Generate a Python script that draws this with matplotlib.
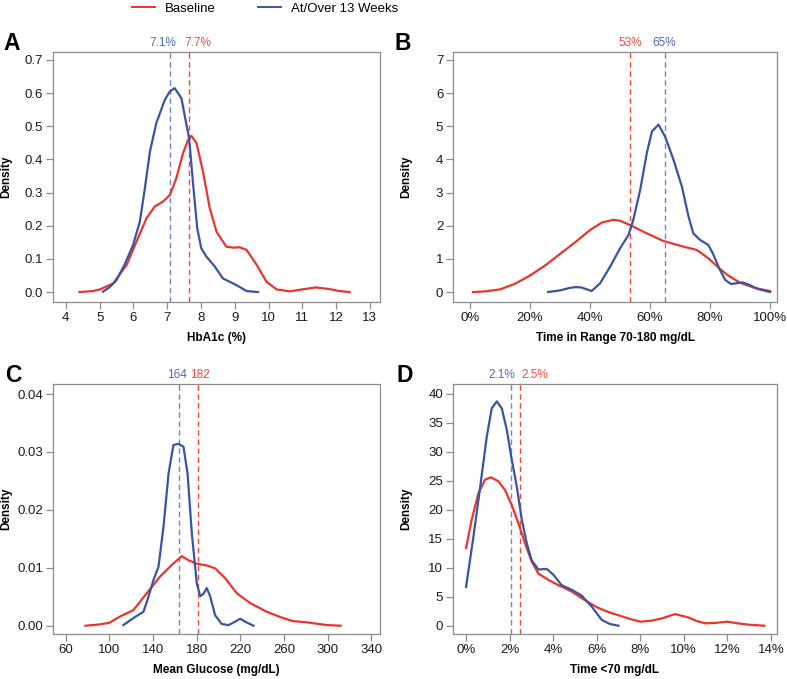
import matplotlib
matplotlib.use("Agg")
import matplotlib.pyplot as plt
from matplotlib.lines import Line2D
from matplotlib.ticker import FuncFormatter

plt.rcParams['font.family'] = ['Liberation Sans', 'DejaVu Sans']

RED = '#E8352E'
BLUE = '#3A54A4'
RED_DASH = '#F04A3E'
BLUE_DASH = '#6F88CC'

# ---- Panel A: HbA1c (%) ----
a_base_x = [4.4, 4.8, 5.01, 5.4, 5.8, 6.09, 6.39, 6.63, 6.88, 7.08, 7.27, 7.47, 7.62, 7.72, 7.87,
            8.06, 8.26, 8.46, 8.75, 8.95, 9.15, 9.35, 9.65, 9.94, 10.24, 10.63, 11.0, 11.4, 11.8,
            12.1, 12.4]
a_base_y = [0.0, 0.003, 0.008, 0.026, 0.082, 0.152, 0.223, 0.258, 0.273, 0.293, 0.343, 0.419, 0.459,
            0.471, 0.449, 0.363, 0.253, 0.182, 0.137, 0.134, 0.135, 0.127, 0.082, 0.031, 0.008,
            0.002, 0.008, 0.014, 0.009, 0.003, 0.0]
a_wk13_x = [5.1, 5.3, 5.5, 5.75, 5.99, 6.19, 6.34, 6.49, 6.68, 6.93, 7.08, 7.22, 7.42, 7.57, 7.65,
            7.77, 7.89, 8.01, 8.16, 8.41, 8.65, 9.05, 9.35, 9.69]
a_wk13_y = [0.001, 0.015, 0.036, 0.085, 0.142, 0.212, 0.313, 0.424, 0.51, 0.58, 0.605, 0.615, 0.585,
            0.505, 0.464, 0.323, 0.192, 0.132, 0.107, 0.077, 0.041, 0.021, 0.003, 0.0]
a_means = [7.66, 7.08]
a_labels = ['7.7%', '7.1%']

# ---- Panel B: Time in Range 70-180 mg/dL (%) ----
b_base_x = [1, 5, 10, 15, 20, 25, 30, 35, 40, 44, 47.8, 50, 53.3, 58.9, 64.4, 71.1, 75.6, 79.4, 83,
            86, 90, 95, 100]
b_base_y = [0.0, 0.02, 0.08, 0.25, 0.5, 0.8, 1.15, 1.5, 1.87, 2.1, 2.18, 2.15, 2.02, 1.77, 1.54,
            1.37, 1.27, 1.02, 0.72, 0.5, 0.28, 0.12, 0.03]
b_wk13_x = [26, 30, 33, 35, 37, 39, 40.5, 43.3, 46.7, 50.0, 52.8, 54.4, 56.7, 58.9, 60.6, 62.8, 65.0,
            67.8, 70.6, 72.8, 74.4, 76.7, 79.4, 81, 83, 85, 87, 89, 91, 93, 96, 100]
b_wk13_y = [0.0, 0.05, 0.12, 0.15, 0.14, 0.08, 0.03, 0.26, 0.77, 1.32, 1.72, 2.18, 3.08, 4.19, 4.84,
            5.05, 4.69, 3.99, 3.18, 2.28, 1.77, 1.57, 1.42, 1.15, 0.72, 0.37, 0.24, 0.27, 0.29, 0.22,
            0.09, 0.0]
b_means = [53.3, 64.8]
b_labels = ['53%', '65%']

# ---- Panel C: Mean Glucose (mg/dL) ----
c_base_x = [78, 90, 100, 109.8, 122.0, 134.2, 146.5, 157.2, 166.4, 172.5, 180.1, 189.2, 196.9, 206.1,
            216.8, 229.0, 244.3, 256.5, 268, 280, 300, 312]
c_base_y = [0.0, 0.0002, 0.0005, 0.0016, 0.0027, 0.0056, 0.0085, 0.0105, 0.012, 0.0113, 0.0107,
            0.0104, 0.0099, 0.0082, 0.0056, 0.0039, 0.0024, 0.0015, 0.0008, 0.0006, 0.0001, 0.0]
c_wk13_x = [112.8, 118, 125.1, 131.2, 135.8, 140.4, 145.0, 149.6, 154.2, 158.7, 163.3, 167.9, 171.6,
            175.5, 180.1, 183.2, 186.2, 189.2, 192.3, 196.9, 203.0, 209.1, 215.2, 219.8, 224.4,
            232.0]
c_wk13_y = [0.0001, 0.0008, 0.0017, 0.0024, 0.005, 0.0079, 0.0102, 0.0171, 0.0263, 0.0312, 0.0314,
            0.0309, 0.0263, 0.016, 0.0073, 0.0051, 0.0055, 0.0065, 0.0051, 0.0018, 0.0003, 0.0001,
            0.0007, 0.0012, 0.0007, 0.0]
c_means = [181.4, 163.4]
c_labels = ['182', '164']

# ---- Panel D: Time <70 mg/dL (%) ----
d_base_x = [0, 0.26, 0.57, 0.87, 1.15, 1.49, 1.79, 2.10, 2.40, 2.71, 3.01, 3.32, 3.78, 4.24, 4.85,
            5.46, 6.0, 6.5, 7.0, 7.5, 8.0, 8.5, 9.0, 9.6, 10.2, 10.6, 11.0, 11.5, 12.0, 12.5, 13.0,
            13.7]
d_base_y = [13.4, 18.3, 22.9, 25.2, 25.6, 24.9, 23.4, 20.8, 17.7, 14.2, 11.1, 9.0, 7.9, 7.0, 5.9,
            4.4, 3.2, 2.4, 1.8, 1.2, 0.7, 0.86, 1.27, 2.0, 1.44, 0.8, 0.4, 0.5, 0.7, 0.4, 0.17, 0.0]
d_wk13_x = [0, 0.34, 0.64, 0.95, 1.18, 1.41, 1.64, 1.87, 2.10, 2.33, 2.56, 2.79, 3.01, 3.32, 3.70,
            4.01, 4.39, 4.85, 5.31, 5.77, 6.23, 6.6, 7.0]
d_wk13_y = [6.7, 15.4, 23.7, 32.6, 37.5, 38.7, 37.5, 33.8, 28.6, 24.0, 18.3, 14.2, 11.3, 9.7, 9.8,
            8.8, 7.0, 6.2, 5.2, 3.3, 1.0, 0.3, 0.0]
d_means = [2.49, 2.05]
d_labels = ['2.5%', '2.1%']

W, H = 787, 679
fig = plt.figure(figsize=(W / 100, H / 100), dpi=100)


def px_axes(left, top, right, bottom):
    return fig.add_axes([left / W, 1 - bottom / H, (right - left) / W, (bottom - top) / H])


pct = FuncFormatter(lambda v, p: '%d%%' % round(v))

panels = [
    dict(rect=(53, 52, 380, 302), letter='A', lx=3, base=(a_base_x, a_base_y), wk=(a_wk13_x, a_wk13_y),
         means=a_means, labels=a_labels, offs=(8, -7), xlim=(3.62, 13.3), ylim=(-0.03, 0.724),
         xticks=range(4, 14), yticks=[0, .1, .2, .3, .4, .5, .6, .7], yfmt='%.1f', xfmt=None,
         xlabel='HbA1c (%)'),
    dict(rect=(453, 52, 777, 302), letter='B', lx=395, base=(b_base_x, b_base_y), wk=(b_wk13_x, b_wk13_y),
         means=b_means, labels=b_labels, offs=(0, 0), xlim=(-5.7, 102.3), ylim=(-0.3, 7.24),
         xticks=range(0, 101, 20), yticks=range(0, 8), yfmt='%d', xfmt=pct,
         xlabel='Time in Range 70-180 mg/dL'),
    dict(rect=(53, 384, 380, 634), letter='C', lx=5, base=(c_base_x, c_base_y), wk=(c_wk13_x, c_wk13_y),
         means=c_means, labels=c_labels, offs=(2, -2), xlim=(48.3, 348), ylim=(-0.00143, 0.04173),
         xticks=range(60, 341, 40), yticks=[0, .01, .02, .03, .04], yfmt='%.2f', xfmt=None,
         xlabel='Mean Glucose (mg/dL)'),
    dict(rect=(453, 384, 777, 634), letter='D', lx=396, base=(d_base_x, d_base_y), wk=(d_wk13_x, d_wk13_y),
         means=d_means, labels=d_labels, offs=(15, -9), xlim=(-0.6, 14.28), ylim=(-1.43, 41.7),
         xticks=range(0, 15, 2), yticks=range(0, 41, 5), yfmt='%d', xfmt=pct,
         xlabel='Time <70 mg/dL'),
]

for p in panels:
    l, t, r, b = p['rect']
    ax = px_axes(l, t, r, b)
    ax.plot(*p['base'], color=RED, lw=1.6, zorder=3, solid_joinstyle='round')
    ax.plot(*p['wk'], color=BLUE, lw=1.6, zorder=4, solid_joinstyle='round')
    ax.axvline(p['means'][0], color=RED_DASH, lw=1.0, ls=(0, (4, 2.5)), zorder=2)
    ax.axvline(p['means'][1], color=BLUE_DASH, lw=1.0, ls=(0, (4, 2.5)), zorder=2)
    for m, lab, col, dx in zip(p['means'], p['labels'], [RED_DASH, '#4E69B8'], p['offs']):
        ax.annotate(lab, xy=(m, 1), xycoords=('data', 'axes fraction'), xytext=(dx, 3),
                    textcoords='offset pixels', ha='center', va='bottom', color=col, fontsize=8.5)
    ax.set_xlim(*p['xlim'])
    ax.set_ylim(*p['ylim'])
    ax.set_xticks(list(p['xticks']))
    ax.set_yticks(list(p['yticks']))
    ax.yaxis.set_major_formatter(FuncFormatter(lambda v, q, f=p['yfmt']: f % v))
    if p['xfmt'] is not None:
        ax.xaxis.set_major_formatter(p['xfmt'])
    for s in ax.spines.values():
        s.set_color('#8C8C8C')
        s.set_linewidth(0.9)
    ax.tick_params(direction='out', length=5, width=0.9, color='#8C8C8C', labelsize=9.5,
                   labelcolor='#1A1A1A', pad=2)
    ax.set_xlabel(p['xlabel'], fontsize=8.5, fontweight='bold', labelpad=6)
    ax.set_ylabel('Density', fontsize=8.5, fontweight='bold')
    ax.yaxis.set_label_coords(-41 / (r - l), 0.5)
    fig.text(p['lx'] / W, 1 - (t - 2) / H, p['letter'], fontsize=16.5, fontweight='bold',
             ha='left', va='baseline')

handles = [Line2D([], [], color=RED, lw=1.4), Line2D([], [], color=BLUE, lw=1.4)]
fig.legend(handles, ['Baseline', 'At/Over 13 Weeks'], loc='center', bbox_to_anchor=(265 / W, 1 - 9 / H),
           ncol=2, frameon=False, handlelength=1.75, handletextpad=0.75,
           columnspacing=3.2, prop={'size': 9.5})

fig.savefig('out.png', dpi=100)
